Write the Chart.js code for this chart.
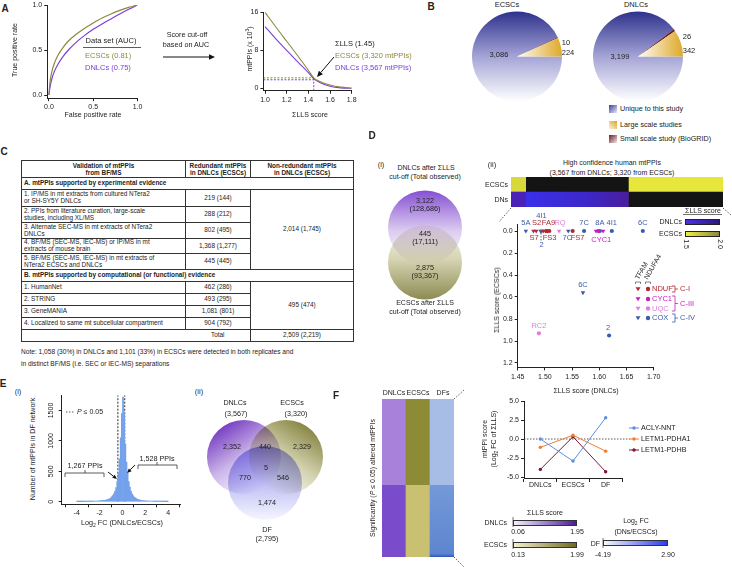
<!DOCTYPE html>
<html><head><meta charset="utf-8"><title>mtPPI figure</title>
<script src="https://cdn.jsdelivr.net/npm/chart.js@4/dist/chart.umd.min.js"></script>
<style>
html,body{margin:0;padding:0;background:#fff}
#root{position:relative;width:732px;height:567px;overflow:hidden;font-family:'Liberation Sans',Arial,Helvetica,sans-serif;color:#222;background:#fff}
#root canvas{position:absolute}
.t{position:absolute;white-space:nowrap;font-size:7px;line-height:1.15}
.t sub,.t sup{font-size:70%;line-height:0}
.sw{position:absolute;box-sizing:border-box}
table.c{position:absolute;left:21px;top:160px;width:332px;border-collapse:collapse;table-layout:fixed;font-size:6.4px;line-height:6.6px;color:#222}
table.c td{border:0.8px solid #333;padding:0 2px;vertical-align:middle;overflow:hidden;white-space:nowrap}
table.c td.h{font-weight:bold;text-align:center;line-height:7px}
table.c td.s{font-weight:bold}
table.c td.n{text-align:center}
#ann{position:absolute;left:0;top:0;z-index:5;overflow:visible}
</style></head>
<body><div id="root"></div>
<script>
// ===================== DATA =====================
// A (left): ROC curves
const rocFpr      = [0,0.01,0.03,0.06,0.10,0.16,0.22,0.30,0.40,0.50,0.60,0.70,0.80,0.90,1.00];
const rocTprECSCs = [0,0.13,0.25,0.35,0.44,0.53,0.60,0.67,0.74,0.80,0.855,0.90,0.94,0.973,1.00];
const rocTprDNLCs = [0,0.08,0.17,0.26,0.34,0.43,0.50,0.58,0.66,0.73,0.79,0.845,0.90,0.952,1.00];
// A (right): mtPPIs vs ΣLLS score
const llsScore    = [1.0,1.1,1.2,1.3,1.4,1.45,1.5,1.6,1.7,1.8];
const mtppiECSCs  = [16,12.9,9.9,6.9,3.8,2.2,1.5,0.7,0.25,0.05];
const mtppiDNLCs  = [13,10.4,8.0,5.6,3.3,2.0,1.3,0.45,0.1,0.0];
const llsCutoff   = 1.45;
const cutLevelECSCs = 2.2, cutLevelDNLCs = 1.8;
// B: pies
const pieCategories = ['Unique to this study','Small scale study (BioGRID)','Large scale studies'];
const pieECSCs = [3086,10,224];
const pieDNLCs = [3199,26,342];
// D(ii): heat strip (ordered: shared, DNLC-only, ECSC-only)
const heatRows = ['ECSCs','DNs'];
const heatSegments = ['Shared','DNLC only','ECSC only'];
const heatSegmentSizes = [445,3122,2875];
// D(ii): scatter (ΣLLS DNLCs vs ΣLLS ECSCs); TFAM = triangles, NDUFA4 = circles
const tfamNdufX=[1.479,1.484,1.497,1.501,1.505], tfamNdufY=[0,0,0,0,0], tfamNdufLab=['S2','S7','','FA9','FS3'];
const tfamCyc1X=[1.594,1.607], tfamCyc1Y=[0,0], tfamCyc1Lab=['',''];
const tfamUqcX=[1.526], tfamUqcY=[0], tfamUqcLab=['RQ'];
const tfamCoxX=[1.465,1.492,1.494,1.543,1.570], tfamCoxY=[0,0,0,0,0.56], tfamCoxLab=['5A','4I1','2','7C','6C'];
const ndufa4NdufX=[1.503,1.508,1.551], ndufa4NdufY=[0,0,0], ndufa4NdufLab=['','','FS7'];
const ndufa4Cyc1X=[1.598], ndufa4Cyc1Y=[0], ndufa4Cyc1Lab=['CYC1'];
const ndufa4UqcX=[1.489], ndufa4UqcY=[0.93], ndufa4UqcLab=['RC2'];
const ndufa4CoxX=[1.572,1.601,1.623,1.680,1.618], ndufa4CoxY=[0,0,0,0,0.95], ndufa4CoxLab=['7C','8A','4I1','6C','2'];
// E(i): histogram of log2 FC (bins of 0.1 from -4 to 4)
const histCounts = [
 1,1,1,2,2,2,3,3,4,4,
 5,5,6,6,7,8,9,10,12,13,
 15,17,19,21,24,28,32,38,46,56,
 80,100,130,170,230,330,480,700,1050,1450,
 1720,1480,950,650,470,330,240,170,125,95,
 72,58,47,39,32,27,23,20,17,15,
 13,12,11,10,9,8,7,6,5,5,
 4,4,3,3,3,2,2,2,1,1];
const pThresholds = [-0.4,0.2];
// E(ii), D(i): Venn counts
const vennDCounts = ['3,122<br>(128,686)','445<br>(17,111)','2,875<br>(93,367)'];
const vennECounts = ['2,352','440','2,329','770','5','546','1,474'];
// F: heat columns and line chart
const fHeatCols = ['DNLCs','ECSCs','DFs'];
const fHeatUp = 1528, fHeatDown = 1267;
const fLineCats = ['DNLCs','ECSCs','DF'];
const aclyNnt    = [0.0,-2.9,2.8];
const letm1Pdha1 = [-1.1,0.5,-1.6];
const letm1Pdhb  = [-4.0,0.3,-4.3];

// ===================== STYLE / HELPERS =====================
const OLIVE='#8b8a3b', PURPLE='#7a3fd9';
const C_NDUF='#b5252f', C_CYC1='#c41cc4', C_UQC='#e27dd8', C_COX='#3d5ca8';
Chart.defaults.font.family="'Liberation Sans', Arial, Helvetica, sans-serif";
Chart.defaults.font.size=7;
Chart.defaults.color='#222';
const root=document.getElementById('root');
const fin=(...a)=>a.every(v=>Number.isFinite(v));

function T(html,x,y,o={}){
  const d=document.createElement('div'); d.className='t'; d.innerHTML=html;
  d.style.left=x+'px'; d.style.top=y+'px';
  if(o.s) d.style.fontSize=o.s+'px';
  if(o.c) d.style.color=o.c;
  if(o.b) d.style.fontWeight='bold';
  if(o.lh) d.style.lineHeight=o.lh;
  if(o.ta) d.style.textAlign=o.ta;
  const tx=o.a==='l'?'0':o.a==='r'?'-100%':'-50%';
  if(o.rot && o.a==='l') d.style.transformOrigin='0 50%';
  d.style.transform=`translate(${tx},-50%)`+(o.rot?` rotate(${o.rot}deg)`:'');
  root.appendChild(d); return d;
}
function SW(x,y,w,h,bg,border){
  const d=document.createElement('div'); d.className='sw';
  Object.assign(d.style,{left:x+'px',top:y+'px',width:w+'px',height:h+'px',background:bg});
  if(border) d.style.border=border;
  root.appendChild(d); return d;
}
function axis(min,max,ticks,fmt,extra={}){
  const o={type:'linear',min,max,
    afterBuildTicks:s=>{s.ticks=ticks.map(v=>({value:v}));},
    border:{display:true,color:'#222',width:1},
    grid:{display:true,drawOnChartArea:false,drawTicks:true,tickLength:3,color:'#222',lineWidth:1},
    ticks:{color:'#222',font:{size:7},padding:2,maxRotation:0,minRotation:0,autoSkip:false,callback:v=>fmt(v)}};
  if(extra.ticks) Object.assign(o.ticks,extra.ticks);
  if(extra.grid) Object.assign(o.grid,extra.grid);
  for(const k in extra) if(k!=='ticks'&&k!=='grid') o[k]=extra[k];
  return o;
}
function mk(area,pad,cfg,axes={x:true,y:true}){
  const L=Math.floor(area[0]-pad[0]), Tp=Math.floor(area[1]-pad[1]);
  const R=Math.ceil(area[2]+pad[2]), B=Math.ceil(area[3]+pad[3]);
  const pl=area[0]-L, pt=area[1]-Tp, pr=R-area[2], pb=B-area[3];
  const cv=document.createElement('canvas');
  cv.width=R-L; cv.height=B-Tp;
  Object.assign(cv.style,{left:L+'px',top:Tp+'px',width:(R-L)+'px',height:(B-Tp)+'px'});
  root.appendChild(cv);
  const o=cfg.options=cfg.options||{};
  Object.assign(o,{responsive:false,animation:false,devicePixelRatio:1,maintainAspectRatio:false,events:[]});
  o.layout={autoPadding:false,padding:{left:axes.y?0:pl,top:pt,right:pr,bottom:axes.x?0:pb}};
  if(o.scales){
    for(const k of Object.keys(o.scales)){
      const s=o.scales[k];
      if(!axes[k]){s.display=false;continue;}
      s.afterFit=sc=>{ if(k==='x') sc.height=pb; else sc.width=pl; sc.paddingLeft=0;sc.paddingRight=0;sc.paddingTop=0;sc.paddingBottom=0; };
    }
  }
  o.plugins=Object.assign({legend:{display:false},tooltip:{enabled:false}},o.plugins||{});
  try { return new Chart(cv,cfg); } catch(e){ console.error(e); }
}
const xy=(xs,ys)=>xs.map((x,i)=>({x,y:ys[i]}));
const multiply={id:'mult',beforeDatasetsDraw(c){c.ctx.save();c.ctx.globalCompositeOperation='multiply';},afterDatasetsDraw(c){c.ctx.restore();}};
function vennFill(stops,dir){
  return ctx=>{
    const c=ctx.chart, raw=ctx.raw;
    if(!raw||!c.scales||!c.scales.x||!c.scales.y) return stops[1][1];
    const cx=c.scales.x.getPixelForValue(raw.x), cy=c.scales.y.getPixelForValue(raw.y), r=raw.r;
    if(!fin(cx,cy,r)) return stops[1][1];
    const g=c.ctx.createLinearGradient(cx-dir[0]*r,cy-dir[1]*r,cx+dir[0]*r,cy+dir[1]*r);
    stops.forEach(([p,col])=>g.addColorStop(p,col)); return g;
  };
}

// ===================== PANEL A =====================
mk([47.2,5,137.5,98.2],[30,3,6,16],{
  type:'scatter',
  data:{datasets:[
    {data:xy(rocFpr,rocTprECSCs),showLine:true,borderColor:OLIVE,borderWidth:1.2,pointRadius:0,cubicInterpolationMode:'monotone'},
    {data:xy(rocFpr,rocTprDNLCs),showLine:true,borderColor:PURPLE,borderWidth:1.2,pointRadius:0,cubicInterpolationMode:'monotone'}
  ]},
  options:{scales:{x:axis(-0.02,1,[0,0.5,1],v=>v.toFixed(1)),y:axis(-0.035,1,[0,0.5,1],v=>v.toFixed(1))}}
});
mk([263.4,12.3,351.7,90.7],[22,4,6,16],{
  type:'scatter',
  data:{datasets:[
    {data:xy(llsScore,mtppiECSCs),showLine:true,borderColor:OLIVE,borderWidth:1.1,pointRadius:0,cubicInterpolationMode:'monotone'},
    {data:xy(llsScore,mtppiDNLCs),showLine:true,borderColor:PURPLE,borderWidth:1.1,pointRadius:0,cubicInterpolationMode:'monotone'},
    {data:[{x:0.985,y:cutLevelECSCs},{x:llsCutoff,y:cutLevelECSCs}],showLine:true,borderColor:OLIVE,borderWidth:1,borderDash:[2,1.5],pointRadius:0},
    {data:[{x:0.985,y:cutLevelDNLCs},{x:llsCutoff,y:cutLevelDNLCs}],showLine:true,borderColor:PURPLE,borderWidth:1,borderDash:[2,1.5],pointRadius:0},
    {data:[{x:llsCutoff,y:-0.5},{x:llsCutoff,y:cutLevelECSCs}],showLine:true,borderColor:PURPLE,borderWidth:1,borderDash:[2,1.5],pointRadius:0}
  ]},
  options:{scales:{x:axis(0.985,1.8,[1.0,1.2,1.4,1.6,1.8],v=>v.toFixed(1)),y:axis(-0.5,16,[0,8,16],v=>v.toFixed(0))}}
});
T('A',5,9,{s:10,b:true});
T('True positive rate',15,50,{rot:-90});
T('False positive rate',93,115);
T('Data set (AUC)',111,41,{s:7.5});
T('ECSCs (0.81)',85,55.5,{a:'l',c:OLIVE,s:7.5});
T('DNLCs (0.75)',85,68,{a:'l',c:PURPLE,s:7.5});
T('Score cut-off',187,35,{s:7.2});
T('based on AUC',186,45,{s:7.2});
T('mtPPIs (x 10<sup>3</sup>)',250,49,{rot:-90});
T('ΣLLS score',310,115);
T('ΣLLS (1.45)',335,44,{a:'l',s:7.5});
T('ECSCs (3,320 mtPPIs)',335,56,{a:'l',c:OLIVE,s:7.5});
T('DNLCs (3,567 mtPPIs)',335,68,{a:'l',c:PURPLE,s:7.5});

// ===================== PANEL B =====================
function pieFill(ctx){
  const c=ctx.chart,a=c.chartArea; if(!a) return '#8888cc';
  const cx=(a.left+a.right)/2, cy=(a.top+a.bottom)/2, r=Math.min(a.right-a.left,a.bottom-a.top)/2, g=c.ctx;
  if(!fin(cx,cy,r)) return '#8888cc';
  if(ctx.dataIndex===0){const gr=g.createLinearGradient(0,cy-r,0,cy+r);gr.addColorStop(0,'#2e318c');gr.addColorStop(0.5,'#a4a4d6');gr.addColorStop(1,'#ffffff');return gr;}
  if(ctx.dataIndex===1) return '#6a1a1e';
  const gr=g.createLinearGradient(cx,0,cx+r,0);gr.addColorStop(0,'#fffdf6');gr.addColorStop(1,'#dea82a');return gr;
}
[[pieECSCs,472],[pieDNLCs,593]].forEach(([vals,left])=>{
  mk([left,11.5,left+90,101.5],[0,0,0,0],{
    type:'pie',
    data:{labels:pieCategories,datasets:[{data:vals,backgroundColor:pieFill,borderWidth:0}]},
    options:{rotation:90}
  },{x:false,y:false});
});
T('B',431,7,{s:10,b:true});
T('ECSCs',507,5,{s:7.5});
T('DNLCs',636,5,{s:7.5});
T('3,086',499,55,{s:7.5});
T('10',566,43,{s:7.5});
T('224',568,53,{s:7.5});
T('3,199',620,57,{s:7.5});
T('26',687,37,{s:7.5});
T('342',689,51,{s:7.5});
SW(609,105,8,8,'linear-gradient(135deg,#3b3d9a,#e9e9f7)');
SW(609,121,8,8,'linear-gradient(45deg,#fcf4dc,#dba42a)');
SW(609,135,8,8,'linear-gradient(135deg,#6a1c20,#f3e6e6)');
T('Unique to this study',620,109.3,{a:'l',s:7.2});
T('Large scale studies',620,125,{a:'l',s:7.2});
T('Small scale study (BioGRID)',620,139.3,{a:'l',s:7.2});

// ===================== PANEL C (table) =====================
T('C',4,152,{s:10,b:true});
root.insertAdjacentHTML('beforeend',`
<table class="c">
<colgroup><col style="width:164px"><col style="width:65px"><col style="width:103px"></colgroup>
<tr style="height:17px"><td class="h">Validation of mtPPIs<br>from BF/MS</td><td class="h">Redundant mtPPIs<br>in DNLCs (ECSCs)</td><td class="h">Non-redundant mtPPIs<br>in DNLCs (ECSCs)</td></tr>
<tr style="height:12px"><td colspan="3" class="s">A. mtPPIs supported by experimental evidence</td></tr>
<tr style="height:17px"><td>1. IP/MS in mt extracts from cultured NTera2<br>or SH-SY5Y DNLCs</td><td class="n">219 (144)</td><td rowspan="5" class="n">2,014 (1,745)</td></tr>
<tr style="height:16px"><td>2. PPIs from literature curation, large-scale<br>studies, including XL/MS</td><td class="n">288 (212)</td></tr>
<tr style="height:16px"><td>3. Alternate SEC-MS in mt extracts of NTera2<br>DNLCs</td><td class="n">802 (495)</td></tr>
<tr style="height:15px"><td>4. BF/MS (SEC-MS, IEC-MS) or IP/MS in mt<br>extracts of mouse brain</td><td class="n">1,368 (1,277)</td></tr>
<tr style="height:16px"><td>5. BF/MS (SEC-MS, IEC-MS) in mt extracts of<br>NTera2 ECSCs and DNLCs</td><td class="n">445 (445)</td></tr>
<tr style="height:12px"><td colspan="3" class="s">B. mtPPIs supported by computational (or functional) evidence</td></tr>
<tr style="height:12px"><td>1. HumanNet</td><td class="n">462 (286)</td><td rowspan="4" class="n">495 (474)</td></tr>
<tr style="height:12px"><td>2. STRING</td><td class="n">493 (295)</td></tr>
<tr style="height:12px"><td>3. GeneMANIA</td><td class="n">1,081 (801)</td></tr>
<tr style="height:12px"><td>4. Localized to same mt subcellular compartment</td><td class="n">904 (792)</td></tr>
<tr style="height:12px"><td style="border-right:none"></td><td class="n" style="border-left:none">Total</td><td class="n">2,509 (2,219)</td></tr>
</table>`);
T('Note: 1,058 (30%) in DNLCs and 1,101 (33%) in ECSCs were detected in both replicates and',21,352,{a:'l',s:6.6});
T('in distinct BF/MS (i.e. SEC or IEC-MS) separations',21,364,{a:'l',s:6.6});

// ===================== PANEL D =====================
T('D',372,136,{s:10,b:true});
T('(i)',381,165,{s:7.5});
T('DNLCs after ΣLLS',426,168);
T('cut-off (Total observed)',425,177);
// D(i) Venn
mk([385,187,465,303],[0,0,0,0],{
  type:'bubble',
  data:{datasets:[
    {data:[{x:0,y:17.5,r:37}],borderWidth:0,backgroundColor:vennFill([[0,'#8650d3'],[0.55,'#dccdf0'],[1,'#ffffff']],[0,1])},
    {data:[{x:0,y:-17.5,r:37}],borderWidth:0,backgroundColor:vennFill([[0,'#f6f5ec'],[0.45,'#d6d5b4'],[1,'#8d8b52']],[0,1])}
  ]},
  options:{scales:{x:{type:'linear',min:-40,max:40},y:{type:'linear',min:-58,max:58}}},
  plugins:[multiply]
},{x:false,y:false});
T(vennDCounts[0],425,204.5,{ta:'center',lh:'8.5px',s:7.2});
T(vennDCounts[1],425,237.5,{ta:'center',lh:'8.5px',s:7.2});
T(vennDCounts[2],425,271.5,{ta:'center',lh:'8.5px',s:7.2});
T('ECSCs after ΣLLS',425,303);
T('cut-off (Total observed)',425,312);

// D(ii) heat strip
T('(ii)',492,165,{s:7.5});
T('High confidence human mtPPIs',612,163);
T('(3,567 from DNLCs; 3,320 from ECSCs)',612,172.5);
T('ECSCs',508,185,{a:'r'});
T('DNs',508,200,{a:'r'});
const heatTotal=heatSegmentSizes.reduce((a,b)=>a+b,0);
function heatFill(ctx){
  const c=ctx.chart, row=ctx.dataIndex, seg=ctx.datasetIndex;
  if(row===0){ if(seg===1) return '#141414'; return seg===0?'#d9d83a':'#e6e63b'; }
  if(seg===2) return '#141414';
  if(seg===0) return '#4b22b8';
  if(!c.scales||!c.scales.x) return '#3b2bd8';
  const x0=c.scales.x.getPixelForValue(heatSegmentSizes[0]), x1=c.scales.x.getPixelForValue(heatSegmentSizes[0]+heatSegmentSizes[1]);
  if(!fin(x0,x1)) return '#3b2bd8';
  const g=c.ctx.createLinearGradient(x0,0,x1,0); g.addColorStop(0,'#3a30ea'); g.addColorStop(0.6,'#3d27c8'); g.addColorStop(1,'#4a1e9c'); return g;
}
mk([511,177,723,207],[0,0,0,0],{
  type:'bar',
  data:{labels:heatRows,datasets:heatSegments.map((name,k)=>({label:name,data:heatRows.map(()=>heatSegmentSizes[k]),backgroundColor:heatFill,borderWidth:0,barPercentage:1,categoryPercentage:1}))},
  options:{indexAxis:'y',scales:{x:{type:'linear',stacked:true,min:0,max:heatTotal},y:{type:'category',stacked:true}}}
},{x:false,y:false});

// D(ii) scatter
const ptLabelPlugin={id:'ptlab',afterDatasetsDraw(chart){
  const ctx=chart.ctx;
  chart.data.datasets.forEach((ds,i)=>{
    if(!ds.ptLabels) return;
    chart.getDatasetMeta(i).data.forEach((el,j)=>{
      const s=ds.ptLabels[j]; if(!s) return;
      const p=ds.ptPlace[j];
      ctx.save(); ctx.fillStyle=ds.backgroundColor; ctx.font="7.5px 'Liberation Sans', Arial, sans-serif";
      ctx.textAlign='center'; ctx.textBaseline='middle';
      ctx.fillText(s,el.x+p[0],el.y+p[1]); ctx.restore();
    });
  });
}};
// label placement (dx, dy in px) relative to each point
const tfamNdufPlace=[[3,-8],[-2,6.5],[0,0],[3,-8],[2,7]];
const tfamCyc1Place=[[0,0],[0,0]];
const tfamUqcPlace=[[1,-8.5]];
const tfamCoxPlace=[[0,-8],[1,-15],[0,14],[-1,6.5],[0,-7.5]];
const ndufa4NdufPlace=[[0,0],[0,0],[5,6.5]];
const ndufa4Cyc1Place=[[3,9]];
const ndufa4UqcPlace=[[0,-7.5]];
const ndufa4CoxPlace=[[0,-8],[0,-8],[0,-8],[0,-8],[-1,-8]];
function sDs(xs,ys,labs,place,col,tri){
  return {data:xy(xs,ys),backgroundColor:col,borderWidth:0,pointStyle:tri?'triangle':'circle',rotation:tri?180:0,pointRadius:tri?2.6:2.1,ptLabels:labs,ptPlace:place,clip:false};
}
mk([517.7,224.4,653.7,367.4],[30,16,10,14],{
  type:'scatter',
  data:{datasets:[
    sDs(tfamNdufX,tfamNdufY,tfamNdufLab,tfamNdufPlace,C_NDUF,true),
    sDs(tfamCyc1X,tfamCyc1Y,tfamCyc1Lab,tfamCyc1Place,C_CYC1,true),
    sDs(tfamUqcX,tfamUqcY,tfamUqcLab,tfamUqcPlace,C_UQC,true),
    sDs(tfamCoxX,tfamCoxY,tfamCoxLab,tfamCoxPlace,C_COX,true),
    sDs(ndufa4NdufX,ndufa4NdufY,ndufa4NdufLab,ndufa4NdufPlace,C_NDUF,false),
    sDs(ndufa4Cyc1X,ndufa4Cyc1Y,ndufa4Cyc1Lab,ndufa4Cyc1Place,C_CYC1,false),
    sDs(ndufa4UqcX,ndufa4UqcY,ndufa4UqcLab,ndufa4UqcPlace,C_UQC,false),
    sDs(ndufa4CoxX,ndufa4CoxY,ndufa4CoxLab,ndufa4CoxPlace,C_COX,false)
  ]},
  options:{scales:{
    x:axis(1.45,1.70,[1.45,1.50,1.55,1.60,1.65,1.70],v=>v.toFixed(2)),
    y:axis(-0.06,1.24,[0,0.2,0.4,0.6,0.8,1.0,1.2],v=>v.toFixed(1),{reverse:true})
  }},
  plugins:[ptLabelPlugin]
});
T('ΣLLS score (ECSCs)',497,300,{rot:-90});
T('ΣLLS score (DNLCs)',586,391);
// ΣLLS legend
T('ΣLLS score',703,210.5);
SW(685,219,35,6,'linear-gradient(to right,#4a30e8,#2c1a7d)','0.6px solid #222');
SW(685,231,35,6,'linear-gradient(to right,#f0f03c,#8a8840)','0.6px solid #222');
T('DNLCs',682,222,{a:'r'});
T('ECSCs',682,234,{a:'r'});
T('1.5',686,244,{rot:90});
T('2.0',720,244,{rot:90});
// marker legend
T('TFAM',637,279,{a:'l',rot:-60});
T('NDUFA4',646,279,{a:'l',rot:-60});
const legRows=[['NDUF',C_NDUF,289],['CYC1',C_CYC1,299],['UQC',C_UQC,308.5],['COX',C_COX,318]];
legRows.forEach(([n,c,y])=>T(n,652,y,{a:'l',c,s:7.5}));
T('C-I',680,289,{a:'l',c:C_NDUF,s:7.5});
T('C-III',680,304,{a:'l',c:C_CYC1,s:7.5});
T('C-IV',680,318,{a:'l',c:C_COX,s:7.5});

// ===================== PANEL E =====================
T('E',3,384,{s:10,b:true});
T('(i)',18,392,{s:7.5});
T('(ii)',199,392,{s:7.5});
const histBins=histCounts.map((c,i)=>({x:-4+0.05+0.1*i,y:c}));
mk([61.7,395.3,180,504.3],[18,3,5,14],{
  type:'bar',
  data:{datasets:[
    {type:'bar',data:histBins,backgroundColor:'#74a1ec',borderWidth:0,barPercentage:1,categoryPercentage:1},
    {type:'line',data:[{x:pThresholds[0],y:0},{x:pThresholds[0],y:1750}],borderColor:'#111',borderWidth:0.9,borderDash:[2,1.5],pointRadius:0},
    {type:'line',data:[{x:pThresholds[1],y:0},{x:pThresholds[1],y:1750}],borderColor:'#111',borderWidth:0.9,borderDash:[2,1.5],pointRadius:0}
  ]},
  options:{scales:{
    x:axis(-4.28,4,[-4,-2,0,2,4],v=>String(v)),
    y:axis(-43,1750,[0,500,1000,1500],v=>String(v),{ticks:{minRotation:90,maxRotation:90,crossAlign:'center',padding:0}})
  }}
});
T('Number of mtPPIs in DF network',33,449,{rot:-90});
T('Log<sub>2</sub> FC (DNLCs/ECSCs)',122,523,{s:7.2});
T('<i>P</i> ≤ 0.05',77,412,{a:'l'});
T('1,267 PPIs',85,466,{s:7.2});
T('1,528 PPIs',157,459,{s:7.2});
// E(ii) Venn
mk([205,418,327,524],[0,0,0,0],{
  type:'bubble',
  data:{datasets:[
    {data:[{x:-22,y:14,r:37}],borderWidth:0,backgroundColor:vennFill([[0,'#7a42c4'],[0.5,'#cdb8ea'],[1,'#ffffff']],[0.55,0.83])},
    {data:[{x:20,y:14,r:37}],borderWidth:0,backgroundColor:vennFill([[0,'#8a8846'],[0.5,'#d2d1ae'],[1,'#ffffff']],[-0.55,0.83])},
    {data:[{x:-1,y:-12,r:37}],borderWidth:0,backgroundColor:vennFill([[0,'#9d9df0'],[0.55,'#c4c4f6'],[1,'#f6f6ff']],[0,1])}
  ]},
  options:{scales:{x:{type:'linear',min:-61,max:61},y:{type:'linear',min:-53,max:53}}},
  plugins:[multiply]
},{x:false,y:false});
T('DNLCs',235,403,{s:7.2}); T('(3,567)',236,413.5,{s:7.2});
T('ECSCs',292,403,{s:7.2}); T('(3,320)',296,413.5,{s:7.2});
T(vennECounts[0],232,447,{s:7.2});
T(vennECounts[1],265,447,{s:7.2});
T(vennECounts[2],302,447,{s:7.2});
T(vennECounts[3],245,478,{s:7.2});
T(vennECounts[4],266,468,{s:7.2});
T(vennECounts[5],283,478,{s:7.2});
T(vennECounts[6],267,503,{s:7.2});
T('DF',267,530,{s:7.2}); T('(2,795)',267,539,{s:7.2});

// ===================== PANEL F =====================
T('F',336,396,{s:10,b:true});
const fHeatColors={up:['#a781da','#8e8b36','#a7bde6'],down:['#7a4bca','#c9c171','#6d92d4']};
mk([382,399,454,557],[0,0,0,0],{
  type:'bar',
  data:{labels:fHeatCols,datasets:[
    {data:fHeatCols.map(()=>fHeatDown),backgroundColor:ctx=>{
      const c=ctx.chart; if(ctx.dataIndex!==2||!c.chartArea||!c.scales||!c.scales.y) return fHeatColors.down[ctx.dataIndex];
      const a=c.chartArea, y0=c.scales.y.getPixelForValue(fHeatDown);
      if(!fin(y0,a.bottom)) return fHeatColors.down[2];
      const g=c.ctx.createLinearGradient(0,y0,0,a.bottom);
      g.addColorStop(0,'#7399d8'); g.addColorStop(0.95,'#5e86d0'); g.addColorStop(1,'#3457bd'); return g;},
     borderWidth:0,barPercentage:1,categoryPercentage:1},
    {data:fHeatCols.map(()=>fHeatUp),backgroundColor:ctx=>fHeatColors.up[ctx.dataIndex],borderWidth:0,barPercentage:1,categoryPercentage:1}
  ]},
  options:{scales:{x:{type:'category',stacked:true},y:{type:'linear',stacked:true,min:0,max:fHeatUp+fHeatDown}}}
},{x:false,y:false});
T('DNLCs',394,393); T('ECSCs',418,393); T('DFs',443,393);
T('Significantly (<i>P</i> ≤ 0.05) altered mtPPIs',373,478,{rot:-90});
// F line chart
const zeroLine={id:'zero',beforeDatasetsDraw(chart){
  const y=chart.scales.y.getPixelForValue(0), ctx=chart.ctx; ctx.save();
  ctx.setLineDash([1.5,1.5]); ctx.strokeStyle='#333'; ctx.lineWidth=0.8;
  ctx.beginPath(); ctx.moveTo(chart.chartArea.left,y); ctx.lineTo(chart.width,y); ctx.stroke(); ctx.restore();
}};
function lDs(vals,col){return {data:vals,borderColor:col,backgroundColor:col,borderWidth:1,pointRadius:1.7,pointBorderWidth:0,tension:0};}
mk([524,401,622,478],[30,3,8,13],{
  type:'line',
  data:{labels:fLineCats,datasets:[lDs(aclyNnt,'#5b8ee2'),lDs(letm1Pdha1,'#ee7d33'),lDs(letm1Pdhb,'#7c1734')]},
  options:{scales:{
    x:{type:'category',offset:true,border:{display:true,color:'#222',width:1},
       grid:{display:true,offset:true,drawOnChartArea:false,drawTicks:true,tickLength:4,color:'#222',lineWidth:1},
       ticks:{color:'#222',font:{size:7},padding:-1.5,maxRotation:0,autoSkip:false}},
    y:axis(-5.13,5,[5,2.5,0,-2.5,-5],v=>v.toFixed(1))
  }},
  plugins:[zeroLine]
});
T('mtPPI score',485,439,{rot:-90});
T('(Log<sub>2</sub> FC of ΣLLS)',494,439,{rot:-90});
T('ACLY-NNT',641,428,{a:'l',s:7.2});
T('LETM1-PDHA1',641,439,{a:'l',s:7.2});
T('LETM1-PDHB',641,450,{a:'l',s:7.2});
// F colour bars
T('ΣLLS score',545,513);
SW(513,519.5,64,6,'linear-gradient(to right,#f4effb,#4b1c9e)','0.6px solid #333');
SW(513,541.5,64,6,'linear-gradient(to right,#f5f2cc,#6f6a1f)','0.6px solid #333');
SW(603,540,65,6,'linear-gradient(to right,#f5f7ff,#2e3cf0)','0.6px solid #333');
T('DNLCs',507,523,{a:'r'}); T('ECSCs',507,545,{a:'r'}); T('DF',600,544,{a:'r'});
T('0.06',518,532); T('1.95',577,532);
T('0.13',518,555); T('1.99',577,555);
T('-4.19',603,555); T('2.90',668,555);
T('Log<sub>2</sub> FC',636,521); T('(DNs/ECSCs)',636,532);

// ===================== ANNOTATION LINES (SVG) =====================
function arrowSvg(x1,y1,x2,y2,col='#111',w=1,h=5){
  const a=Math.atan2(y2-y1,x2-x1), bx=x2-h*Math.cos(a), by=y2-h*Math.sin(a);
  const p1=[bx+h*0.45*Math.sin(a),by-h*0.45*Math.cos(a)], p2=[bx-h*0.45*Math.sin(a),by+h*0.45*Math.cos(a)];
  return `<line x1="${x1}" y1="${y1}" x2="${bx}" y2="${by}" stroke="${col}" stroke-width="${w}"/><polygon points="${x2},${y2} ${p1} ${p2}" fill="${col}"/>`;
}
const dash='stroke="#333" stroke-width="0.8" stroke-dasharray="1.5,1.5"';
let s='';
s+=`<line x1="83" y1="47.5" x2="141" y2="47.5" stroke="#333" stroke-width="0.8"/>`;
s+=arrowSvg(163,57,215,57,'#111',1,6);
s+=arrowSvg(334,57,317,77,'#111',1,6);
s+=`<line x1="511" y1="208" x2="499" y2="222" ${dash}/><line x1="723" y1="208" x2="731" y2="215" ${dash}/>`;
s+=`<line x1="683" y1="214.5" x2="722" y2="214.5" stroke="#333" stroke-width="0.7"/>`;
s+=`<path d="M635.5 284 v-2 h5 v2 M645.5 284 v-2 h5 v2" fill="none" stroke="#333" stroke-width="0.6"/>`;
legRows.forEach(([n,c,y])=>{
  s+=`<polygon points="635.5,${y-1.8} 640.5,${y-1.8} 638,${y+2.2}" fill="${c}"/><circle cx="648" cy="${y}" r="2.2" fill="${c}"/>`;
});
s+=`<path d="M672 286 h3 v6 h-3 M675 289 h3" fill="none" stroke="${C_NDUF}" stroke-width="0.8"/>`;
s+=`<path d="M672 296 h3 v15 h-3 M675 303.5 h3" fill="none" stroke="${C_CYC1}" stroke-width="0.8"/>`;
s+=`<path d="M672 314 h3 v8 h-3 M675 318 h3" fill="none" stroke="${C_COX}" stroke-width="0.8"/>`;
s+=`<line x1="541" y1="233" x2="541" y2="241" ${dash}/>`;
// E annotations
s+=`<line x1="66" y1="412" x2="75" y2="412" ${dash}/>`;
s+=`<path d="M65 477 v-4 h20 v-3 M85 473 h19 v4" fill="none" stroke="#333" stroke-width="0.8"/>`;
s+=`<path d="M138 469 v-4 h19 v-3 M157 465 h20 v4" fill="none" stroke="#333" stroke-width="0.8"/>`;
s+=arrowSvg(108,472,117,479,'#111',1,4.5);
s+=arrowSvg(135,465,127,473,'#111',1,4.5);
// F annotations
s+=`<line x1="454" y1="399" x2="464" y2="390" ${dash}/><line x1="454" y1="557" x2="464" y2="567" ${dash}/>`;
[['#5b8ee2',428],['#ee7d33',439],['#7c1734',450]].forEach(([c,y])=>{
  s+=`<line x1="629" y1="${y}" x2="639" y2="${y}" stroke="${c}" stroke-width="1"/><circle cx="634" cy="${y}" r="1.7" fill="${c}"/>`;
});
s+=`<line x1="513" y1="517" x2="513" y2="527" stroke="#333" stroke-width="0.7"/><line x1="513" y1="539" x2="513" y2="549" stroke="#333" stroke-width="0.7"/><line x1="603" y1="538" x2="603" y2="548" stroke="#333" stroke-width="0.7"/>`;
root.insertAdjacentHTML('beforeend',`<svg id="ann" width="732" height="567" viewBox="0 0 732 567">${s}</svg>`);
</script>
</body></html>
